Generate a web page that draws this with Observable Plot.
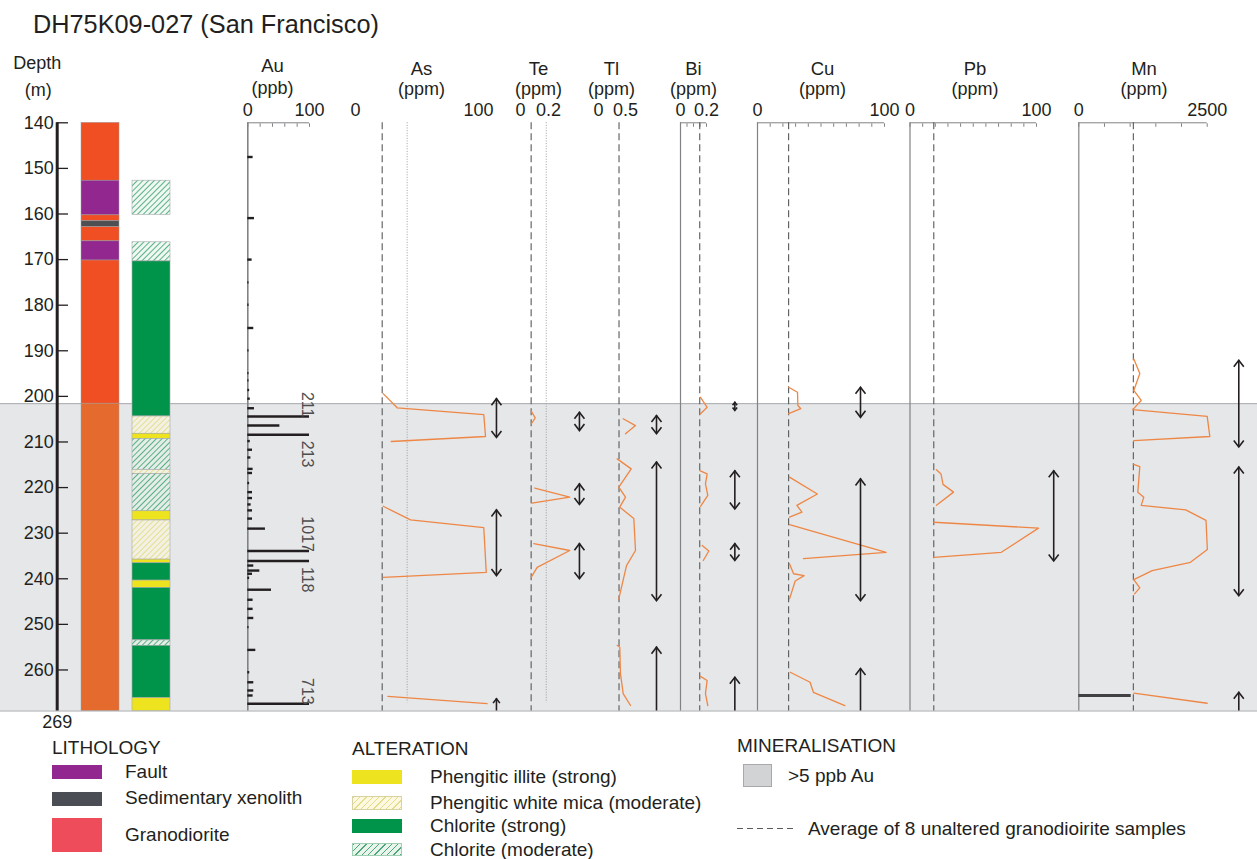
<!DOCTYPE html>
<html lang="en">
<head>
<meta charset="utf-8">
<title>DH75K09-027 (San Francisco)</title>
<script src="https://cdn.jsdelivr.net/npm/d3@7"></script>
<script src="https://cdn.jsdelivr.net/npm/@observablehq/plot@0.6"></script>
<style>
  html, body { margin: 0; padding: 0; background: #fff; }
  body { font-family: "Liberation Sans", Arial, Helvetica, sans-serif; color: #231f20; }
  #page { position: relative; width: 1257px; height: 859px; overflow: hidden; }
  #title { position: absolute; left: 33px; top: 12px; font-size: 25.3px; line-height: 1; white-space: nowrap; }
  #log { position: absolute; left: 0; top: 40px; width: 1257px; height: 700px; }
  #log > svg { position: absolute; left: 0; top: 0; }
  #legend { position: absolute; left: 0; top: 0; width: 1257px; height: 859px; pointer-events: none; }
  .lg { position: absolute; white-space: nowrap; font-size: 19px; line-height: 20px; }
  .sw { position: absolute; box-sizing: border-box; }
</style>
</head>
<body>
<div id="page">
  <div id="title">DH75K09-027 (San Francisco)</div>
  <div id="log"></div>
  <div id="legend"></div>
</div>
<script>
// ---------------------------------------------------------------
// Drill hole DH75K09-027, depth interval 140–269 m
// ---------------------------------------------------------------
const depthTicks = [140, 150, 160, 170, 180, 190, 200, 210, 220, 230, 240, 250, 260];
const holeTop = 140;
const holeBottom = 269;

// Mineralised interval (>5 ppb Au)
const mineralised = [{top: 201.6, base: 269.0}];

// Lithology intervals (m)
const lithology = [
  {top: 140.0, base: 152.7, unit: "Granodiorite"},
  {top: 152.7, base: 160.3, unit: "Fault"},
  {top: 160.3, base: 161.6, unit: "Granodiorite"},
  {top: 161.6, base: 162.9, unit: "Sedimentary xenolith"},
  {top: 162.9, base: 166.0, unit: "Granodiorite"},
  {top: 166.0, base: 170.2, unit: "Fault"},
  {top: 170.2, base: 269.0, unit: "Granodiorite"}
];

// Alteration intervals (m)
const alteration = [
  {top: 152.7, base: 160.2, type: "Chlorite (moderate)"},
  {top: 166.2, base: 170.4, type: "Chlorite (moderate)"},
  {top: 170.4, base: 204.4, type: "Chlorite (strong)"},
  {top: 204.4, base: 208.2, type: "Phengitic white mica (moderate)"},
  {top: 208.2, base: 209.3, type: "Phengitic illite (strong)"},
  {top: 209.3, base: 216.1, type: "Chlorite (moderate)"},
  {top: 216.1, base: 217.0, type: "Phengitic white mica (moderate)"},
  {top: 217.0, base: 225.2, type: "Chlorite (moderate)"},
  {top: 225.2, base: 227.2, type: "Phengitic illite (strong)"},
  {top: 227.2, base: 235.8, type: "Phengitic white mica (moderate)"},
  {top: 235.8, base: 236.6, type: "Phengitic illite (strong)"},
  {top: 236.6, base: 240.4, type: "Chlorite (strong)"},
  {top: 240.4, base: 242.0, type: "Phengitic illite (strong)"},
  {top: 242.0, base: 253.5, type: "Chlorite (strong)"},
  {top: 253.5, base: 254.7, type: "Chlorite (moderate)"},
  {top: 254.7, base: 266.2, type: "Chlorite (strong)"},
  {top: 266.2, base: 269.0, type: "Phengitic illite (strong)"}
];

// Au assays [depth m, Au ppb]
const auAssays = [
  [147.5, 8.6], [160.9, 10.8], [170.0, 7], [175.0, 2], [179.9, 2], [185.0, 9.7],
  [189.9, 2], [194.9, 2], [196.5, 2], [198.6, 3], [200.5, 4], [202.6, 10.8],
  [204.4, 211], [206.4, 52], [208.4, 213], [209.8, 4], [211.7, 7.6], [213.4, 5],
  [215.9, 8.6], [216.8, 7.6], [219.0, 3], [221.0, 7.6], [222.3, 7.6], [223.7, 5.4],
  [225.0, 7.6], [226.8, 7.6], [229.0, 28.6], [233.9, 1017], [236.1, 118], [237.1, 9.7],
  [238.2, 19.5], [238.9, 7.6], [239.8, 3], [242.4, 38.4], [244.6, 8.6], [246.6, 8.6],
  [248.6, 9.7], [250.6, 2], [255.6, 13], [260.5, 3.2], [262.7, 9.7], [264.5, 9.7],
  [265.6, 8.6], [267.4, 713]
];

// Trace-element profiles [segment, depth m, value]
const asProfile = [
  [1, 199.4, 22.5], [1, 202.5, 33.9], [1, 204.0, 104.3], [1, 208.8, 105.7], [1, 209.9, 29.0],
  [2, 224.1, 22.5], [2, 227.1, 44.7], [2, 228.8, 104.3], [2, 238.6, 106.3], [2, 239.7, 22.5],
  [3, 265.8, 26.3], [3, 267.4, 107.0]
];
const teProfile = [
  [1, 203.2, 0.076], [1, 204.7, 0.105], [1, 206.0, 0.078],
  [2, 220.1, 0.102], [2, 222.1, 0.352], [2, 223.4, 0.081],
  [3, 232.3, 0.095], [3, 233.8, 0.352], [3, 237.5, 0.119], [3, 239.7, 0.076]
];
const tlProfile = [
  [1, 204.9, 0.457], [1, 206.4, 0.685], [1, 208.2, 0.50],
  [2, 213.7, 0.346], [2, 215.9, 0.606], [2, 219.9, 0.376], [2, 222.1, 0.50], [2, 224.3, 0.394],
  [2, 226.8, 0.654], [2, 233.8, 0.685], [2, 237.1, 0.519], [2, 244.4, 0.376],
  [3, 254.6, 0.346], [3, 255.0, 0.394], [3, 260.8, 0.407], [3, 265.2, 0.457], [3, 267.8, 0.593]
];
const biProfile = [
  [1, 200.2, 0.154], [1, 202.4, 0.205], [1, 203.8, 0.154],
  [2, 216.3, 0.148], [2, 217.0, 0.205], [2, 219.2, 0.192], [2, 221.7, 0.210], [2, 224.1, 0.154],
  [3, 232.7, 0.167], [3, 233.9, 0.218], [3, 236.0, 0.175],
  [4, 261.4, 0.154], [4, 262.3, 0.205], [4, 265.2, 0.192], [4, 267.8, 0.210]
];
const cuProfile = [
  [1, 198.0, 24.5], [1, 199.1, 31.5], [1, 202.0, 31.8], [1, 202.7, 34.1], [1, 203.8, 24.5],
  [2, 217.7, 25.2], [2, 221.4, 47.1], [2, 223.9, 31.0], [2, 225.4, 35.0], [2, 226.5, 25.2],
  [3, 228.1, 25.2], [3, 234.2, 101.3], [3, 235.6, 36.2],
  [4, 236.7, 25.2], [4, 238.9, 28.4], [4, 239.3, 36.7], [4, 240.5, 29.7], [4, 244.4, 25.2],
  [5, 260.5, 25.8], [5, 262.7, 41.4], [5, 264.9, 44.0], [5, 267.8, 68.8]
];
const pbProfile = [
  [1, 216.1, 20.9], [1, 217.0, 24.5], [1, 219.3, 26.1], [1, 221.0, 34.4], [1, 223.9, 20.9],
  [2, 227.6, 18.8], [2, 228.9, 101.6], [2, 234.2, 72.2], [2, 235.3, 18.8]
];
const mnProfile = [
  [1, 191.8, 1071], [1, 195.0, 1188], [1, 198.7, 1071], [1, 200.9, 1215], [1, 202.9, 1051],
  [1, 204.4, 2500], [1, 208.8, 2551], [1, 209.7, 1071],
  [2, 214.9, 1071], [2, 215.4, 1188], [2, 221.0, 1149], [2, 222.1, 1266], [2, 223.9, 1215],
  [2, 224.9, 2082], [2, 227.2, 2477], [2, 233.6, 2503], [2, 236.4, 2174], [2, 238.2, 1429],
  [2, 240.2, 1071], [2, 242.0, 1188], [2, 243.3, 1085],
  [3, 265.1, 1071], [3, 267.3, 2500]
];
// Mn interval bar [depth m, Mn ppm]
const mnBar = [[265.6, 1020]];

// Average of 8 unaltered granodiorite samples
const unalteredMean = {As: 21.7, Te: 0.076, Tl: 0.38, Bi: 0.148, Cu: 24.5, Pb: 18.8, Mn: 1062};
// Secondary reference level (dotted)
const referenceLevel = {As: 42, Te: 0.184};

// Enriched intervals [top m, base m]; base null = continues below 269 m
const asIntervals = [[200.5, 209.0], [224.9, 239.3], [266.3, null]];
const teIntervals = [[203.5, 207.5], [219.2, 223.7], [232.3, 240.0]];
const tlIntervals = [[204.2, 208.2], [214.4, 244.8], [255.0, null]];
const biIntervals = [[201.3, 203.1], [216.3, 224.7], [232.3, 236.0], [261.6, null]];
const cuIntervals = [[198.0, 204.6], [218.1, 244.8], [259.7, null]];
const pbIntervals = [[216.3, 236.1]];
const mnIntervals = [[192.1, 211.1], [215.5, 243.7], [264.9, null]];

// ---------------------------------------------------------------
// Styling
// ---------------------------------------------------------------
const ink = "#231f20";
const axisGray = "#808285";
const bandGray = "#e6e7e9";
const profileOrange = "#ee8745";
const font = '"Liberation Sans", Arial, Helvetica, sans-serif';

const lithFill = {
  "Granodiorite": "#f04e23",
  "Fault": "#92278f",
  "Sedimentary xenolith": "#4d4f53"
};
const lithFillMineralised = {
  "Granodiorite": "#e56a2e",
  "Fault": "#92278f",
  "Sedimentary xenolith": "#4d4f53"
};
const altFill = {
  "Phengitic illite (strong)": "#ede41f",
  "Phengitic white mica (moderate)": "url(#hatch-mica)",
  "Chlorite (strong)": "#00934a",
  "Chlorite (moderate)": "url(#hatch-chlorite)"
};

const W = 1257, H = 700;
const marginTop = 82.3, marginBottom = 29.5;
const pxPerMetre = (H - marginBottom - marginTop) / (holeBottom - holeTop);
const yDepth = {domain: [holeTop, holeBottom], range: [marginTop, H - marginBottom], axis: null};

function layer(options) {
  return Plot.plot({
    width: W, height: H,
    marginTop, marginBottom, marginLeft: 0, marginRight: 0,
    y: yDepth,
    style: {background: "none", fontFamily: font, fontSize: "18px", color: ink, overflow: "visible"},
    ...options
  });
}

// Hatch patterns for moderate alteration
function hatchDefs() {
  const ns = "http://www.w3.org/2000/svg";
  const defs = document.createElementNS(ns, "defs");
  const make = (id, bg, line) => {
    const p = document.createElementNS(ns, "pattern");
    p.setAttribute("id", id);
    p.setAttribute("patternUnits", "userSpaceOnUse");
    p.setAttribute("width", "4");
    p.setAttribute("height", "4");
    p.setAttribute("patternTransform", "rotate(45)");
    const r = document.createElementNS(ns, "rect");
    r.setAttribute("width", "4"); r.setAttribute("height", "4"); r.setAttribute("fill", bg);
    const l = document.createElementNS(ns, "line");
    l.setAttribute("x1", "0.5"); l.setAttribute("y1", "0"); l.setAttribute("x2", "0.5"); l.setAttribute("y2", "4");
    l.setAttribute("stroke", line); l.setAttribute("stroke-width", "0.9");
    p.append(r, l);
    return p;
  };
  defs.append(
    make("hatch-chlorite", "rgba(226,242,232,0.55)", "#4aa878"),
    make("hatch-mica", "rgba(252,249,222,0.55)", "#e4dc8a")
  );
  return defs;
}

// Split lithology at the top of the mineralised zone so the zone tint can differ
const mTop = mineralised[0].top;
const lithPieces = lithology.flatMap(d => {
  if (d.base <= mTop) return [{...d, zone: false}];
  if (d.top >= mTop) return [{...d, zone: true}];
  return [{...d, base: mTop, zone: false}, {...d, top: mTop, zone: true}];
});

// Open chevron used as arrow head (tip at the origin, pointing up); scales with r
const chevron = {
  draw(context, size) {
    const k = Math.sqrt(size / Math.PI) / 3;
    context.moveTo(-5 * k, 6.5 * k);
    context.lineTo(0, 0);
    context.lineTo(5 * k, 6.5 * k);
  }
};

const log = document.getElementById("log");

// 1. Mineralised band
log.append(layer({
  marks: [
    Plot.rect(mineralised, {y1: "top", y2: "base", fill: bandGray}),
    Plot.ruleY(mineralised, {y: "top", stroke: "#a7a9ac", strokeWidth: 1}),
    Plot.ruleY(mineralised, {y: "base", stroke: "#a7a9ac", strokeWidth: 1})
  ]
}));

// 2. Lithology and alteration columns
log.append(layer({
  x: {type: "band", domain: ["lith", "alt"], range: [81, 170], paddingInner: 0.255, paddingOuter: 0, axis: null},
  color: {type: "identity"},
  marks: [
    hatchDefs,
    Plot.barY(lithPieces, {
      x: () => "lith", y1: "top", y2: "base",
      fill: d => (d.zone ? lithFillMineralised : lithFill)[d.unit],
      stroke: "#9d9fa2", strokeWidth: 0.5
    }),
    Plot.barY(alteration, {
      x: () => "alt", y1: "top", y2: "base",
      fill: d => altFill[d.type],
      stroke: "#a7a9ac", strokeWidth: 0.6
    })
  ]
}));

// 3. Depth axis
log.append(layer({
  marginLeft: 56.7,
  x: {domain: [0, 1], range: [56.7, 68], axis: null},
  marks: [
    Plot.axisY({anchor: "left", ticks: depthTicks, tickSize: 0, tickPadding: 3.5, fontSize: 18, label: null, tickFormat: d => String(d)}),
    Plot.ruleY(depthTicks, {y: d => d, x1: () => 0, x2: () => 1, stroke: ink, strokeWidth: 1.3}),
    Plot.ruleX([0], {stroke: ink, strokeWidth: 3}),
    Plot.text([holeBottom], {x: () => 0, y: d => d, text: d => String(d), dy: 11, lineAnchor: "middle", fontSize: 18}),
    Plot.text(["Depth"], {x: () => 0, frameAnchor: "top", text: d => d, dx: -20, dy: -54.3, lineAnchor: "bottom", fontSize: 18}),
    Plot.text(["(m)"], {x: () => 0, frameAnchor: "top", text: d => d, dx: -19, dy: -27.3, lineAnchor: "bottom", fontSize: 18})
  ]
}));

// 4. Au column (bars clamp at 100 ppb; off-scale values are written beside them)
const auRows = auAssays.map(([d, v]) => ({d, v}));
const auOver = auRows.filter(r => r.v > 100).map((r, i, arr) => ({
  ...r,
  below: arr.some(o => o.d < r.d && r.d - o.d < 5)
}));
const auLabel = {
  x: "v", y: "d", text: d => String(d.v), rotate: 90, lineAnchor: "top",
  dx: 3.5, fontSize: 16, fill: "#4d4d4f"
};
log.append(layer({
  x: {domain: [0, 100], range: [247.3, 309], clamp: true},
  marks: [
    Plot.text(["Au"], {x: () => 40, frameAnchor: "top", text: d => d, dy: -50.5, lineAnchor: "bottom", fontSize: 18.5}),
    Plot.text(["(ppb)"], {x: () => 40, frameAnchor: "top", text: d => d, dy: -28.5, lineAnchor: "bottom", fontSize: 18}),
    Plot.axisX({anchor: "top", ticks: [0, 100], tickSize: 0, tickPadding: 7, label: null, fontSize: 18, tickFormat: d => String(d)}),
    Plot.axisX({anchor: "top", ticks: d3.range(0, 101, 20), tickSize: -3.5, label: null, tickFormat: () => "", stroke: axisGray}),
    Plot.ruleY([holeTop], {x1: () => 0, x2: () => 100, stroke: axisGray, strokeWidth: 1}),
    Plot.ruleX([0], {stroke: axisGray, strokeWidth: 1.6}),
    Plot.ruleY(auRows, {y: "d", x1: () => 0, x2: "v", stroke: ink, strokeWidth: 2.4}),
    Plot.text(auOver.filter(d => !d.below), {...auLabel, textAnchor: "end", dy: 1}),
    Plot.text(auOver.filter(d => d.below), {...auLabel, textAnchor: "start", dy: 6})
  ]
}));

// 5. Trace-element columns
const elements = [
  {key: "As", unit: "ppm", domain: [0, 100], range: [355, 478], headerAt: 53.7, arrowAt: 114.6, framed: false, profile: asProfile, intervals: asIntervals},
  {key: "Te", unit: "ppm", domain: [0, 0.2], range: [520, 548], headerAt: 0.129, arrowAt: 0.421, framed: false, profile: teProfile, intervals: teIntervals},
  {key: "Tl", unit: "ppm", domain: [0, 0.5], range: [598, 625], headerAt: 0.24, arrowAt: 1.074, framed: false, profile: tlProfile, intervals: tlIntervals},
  {key: "Bi", unit: "ppm", domain: [0, 0.2], range: [680, 706], headerAt: 0.1, arrowAt: 0.418, framed: true, tickStep: 0.05, profile: biProfile, intervals: biIntervals},
  {key: "Cu", unit: "ppm", domain: [0, 100], range: [757, 884], headerAt: 51.2, arrowAt: 81.1, framed: true, tickStep: 10, profile: cuProfile, intervals: cuIntervals},
  {key: "Pb", unit: "ppm", domain: [0, 100], range: [909.5, 1036], headerAt: 51.4, arrowAt: 113.6, framed: true, tickStep: 10, profile: pbProfile, intervals: pbIntervals},
  {key: "Mn", unit: "ppm", domain: [0, 2500], range: [1078.3, 1206.7], headerAt: 1269, arrowAt: 3115, framed: true, tickStep: 500, profile: mnProfile, intervals: mnIntervals}
];

for (const el of elements) {
  const [x0, x1] = el.domain;
  const rows = el.profile.map(([s, d, v]) => ({s, d, v}));
  const spans = el.intervals.map(([top, base]) => {
    const b = base ?? holeBottom;
    const half = (b - top) * pxPerMetre / 2;
    return {top, base: b, open: base == null, head: 3 * Math.min(1, half / 9)};
  });
  const marks = [
    Plot.text([el.key], {x: () => el.headerAt, frameAnchor: "top", text: d => d, dy: -47.5, lineAnchor: "bottom", fontSize: 18.5}),
    Plot.text([`(${el.unit})`], {x: () => el.headerAt, frameAnchor: "top", text: d => d, dy: -28, lineAnchor: "bottom", fontSize: 18}),
    Plot.axisX({anchor: "top", ticks: [x0, x1], tickSize: 0, tickPadding: 6.5, label: null, fontSize: 18, tickFormat: d => String(d)})
  ];
  if (el.framed) {
    marks.push(
      Plot.axisX({anchor: "top", ticks: d3.range(x0, x1 + el.tickStep / 2, el.tickStep), tickSize: -3.5, label: null, tickFormat: () => "", stroke: axisGray}),
      Plot.ruleY([holeTop], {x1: () => x0, x2: () => x1, stroke: axisGray, strokeWidth: 1}),
      Plot.ruleX([x0], {stroke: axisGray, strokeWidth: 1.2})
    );
  }
  if (referenceLevel[el.key] != null) {
    marks.push(Plot.ruleX([referenceLevel[el.key]], {y1: holeTop, y2: 267.2, stroke: "#939598", strokeWidth: 0.9, strokeDasharray: "1,1.6"}));
  }
  marks.push(
    Plot.ruleX([unalteredMean[el.key]], {stroke: "#58595b", strokeWidth: 1.1, strokeDasharray: "7,4"}),
    Plot.line(rows, {x: "v", y: "d", z: "s", stroke: profileOrange, strokeWidth: 1.3}),
    Plot.ruleX(spans, {x: () => el.arrowAt, y1: "top", y2: "base", stroke: ink, strokeWidth: 1.6}),
    Plot.dot(spans, {x: () => el.arrowAt, y: "top", r: "head", symbol: chevron, fill: "none", stroke: ink, strokeWidth: 1.6}),
    Plot.dot(spans.filter(d => !d.open), {x: () => el.arrowAt, y: "base", r: "head", symbol: chevron, rotate: 180, fill: "none", stroke: ink, strokeWidth: 1.6})
  );
  if (el.key === "Mn") {
    marks.push(Plot.ruleY(mnBar.map(([d, v]) => ({d, v})), {y: "d", x1: () => 0, x2: "v", stroke: "#414042", strokeWidth: 3}));
  }
  log.append(layer({x: {domain: el.domain, range: el.range}, r: {type: "identity"}, marks}));
}

// ---------------------------------------------------------------
// Legend
// ---------------------------------------------------------------
const legend = d3.select("#legend");
function label(text, x, cy) {
  legend.append("div").attr("class", "lg").style("left", x + "px").style("top", (cy - 10) + "px").text(text);
}
function swatch(x, y, w, h, css) {
  const s = legend.append("div").attr("class", "sw")
    .style("left", x + "px").style("top", y + "px").style("width", w + "px").style("height", h + "px");
  for (const k in css) s.style(k, css[k]);
}
const hatch = (line, bg) => `repeating-linear-gradient(135deg, ${line} 0 1px, ${bg} 1px 4.5px)`;

label("LITHOLOGY", 52, 748);
swatch(52, 765, 50, 14, {background: "#92278f"});
label("Fault", 125, 772);
swatch(52, 792, 50, 14, {background: "#4a4e54"});
label("Sedimentary xenolith", 125, 798);
swatch(52, 818, 50, 34, {background: "#ef4c5b"});
label("Granodiorite", 125, 835);

label("ALTERATION", 352, 749);
swatch(352, 770, 50, 14, {background: "#ede41f"});
label("Phengitic illite (strong)", 430, 777);
swatch(352, 796, 50, 14, {background: hatch("#e4dc8a", "#fcf9e0"), border: "0.5px solid #d8d2a0"});
label("Phengitic white mica (moderate)", 430, 803);
swatch(352, 819, 50, 14, {background: "#00934a"});
label("Chlorite (strong)", 430, 826);
swatch(352, 843, 50, 13, {background: hatch("#4aa878", "#e8f4ec"), border: "0.5px solid #9fcfb2"});
label("Chlorite (moderate)", 430, 850);

label("MINERALISATION", 737, 746);
swatch(743, 764, 29, 23, {background: "#d1d3d4", border: "1px solid #a7a9ac"});
label(">5 ppb Au", 788, 776);
swatch(737, 828, 58, 1.3, {background: "repeating-linear-gradient(90deg, #58595b 0 6px, transparent 6px 10px)"});
label("Average of 8 unaltered granodioirite samples", 808, 829);
</script>
</body>
</html>
